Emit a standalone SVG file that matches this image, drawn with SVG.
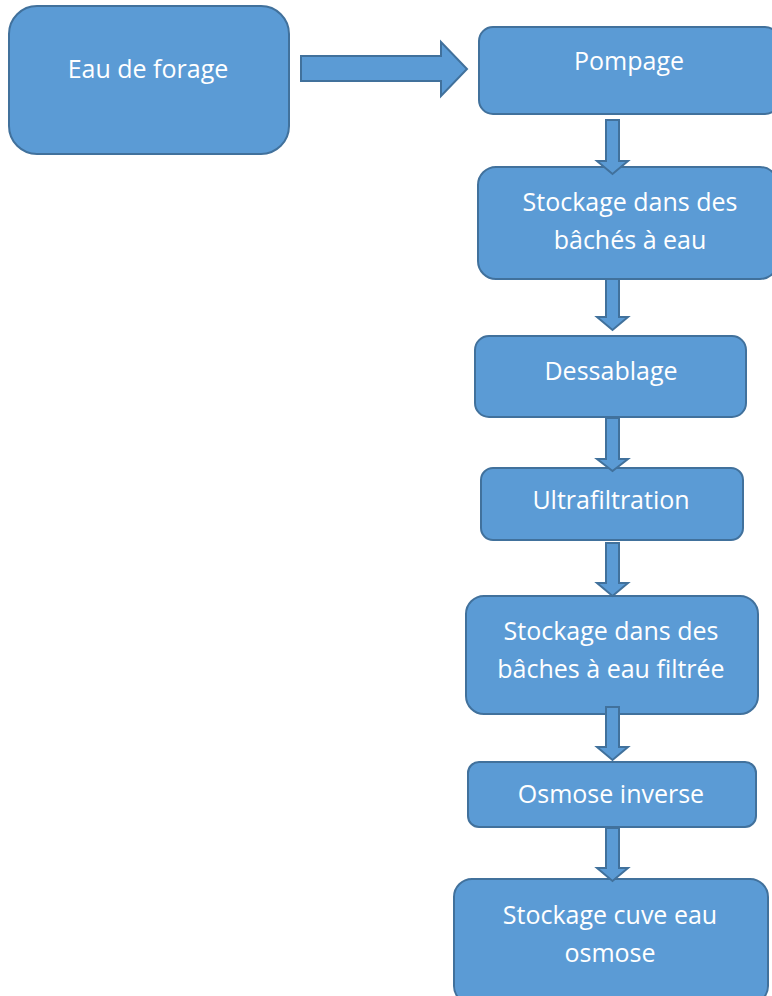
<svg xmlns="http://www.w3.org/2000/svg" width="772" height="996" viewBox="0 0 772 996">
<style>
.box{fill:#5B9BD5;stroke:#41719C;stroke-width:2}
.arr{fill:#5B9BD5;stroke:#41719C;stroke-width:2;stroke-linejoin:miter}
text{font-family:"Open Sans","Liberation Sans",sans-serif;font-size:25px;fill:#FFFFFF;text-anchor:middle}
</style>
<rect width="772" height="996" fill="#FFFFFF"/>
<g id="n1"><rect class="box" x="9" y="6" width="280" height="148" rx="28"/><text x="148" y="78">Eau de forage</text></g>
<g id="n2"><rect class="box" x="479" y="27" width="300" height="87" rx="14"/><text x="629" y="70">Pompage</text></g>
<g id="n3"><rect class="box" x="478" y="167" width="300" height="112" rx="18"/><text x="630" y="211">Stockage dans des</text><text x="630" y="249">bâchés à eau</text></g>
<g id="n4"><rect class="box" x="475" y="336" width="271" height="81" rx="14"/><text x="611" y="380">Dessablage</text></g>
<g id="n5"><rect class="box" x="481" y="468" width="262" height="72" rx="12"/><text x="611" y="509">Ultrafiltration</text></g>
<g id="n6"><rect class="box" x="466" y="596" width="292" height="118" rx="18"/><text x="611" y="640">Stockage dans des</text><text x="611" y="678">bâches à eau filtrée</text></g>
<g id="n7"><rect class="box" x="468" y="762" width="288" height="65" rx="11"/><text x="611" y="803">Osmose inverse</text></g>
<g id="n8"><rect class="box" x="454" y="879" width="314" height="125" rx="18"/><text x="610" y="924">Stockage cuve eau</text><text x="610" y="962">osmose</text></g>
<g id="connectors">
<polygon class="arr" points="301,56 441,56 441,42 467,69 441,96 441,81 301,81"/>
<polygon class="arr" points="606,120 619,120 619,161 628,161 612.5,174 597,161 606,161"/>
<polygon class="arr" points="606,279 619,279 619,317 628,317 612.5,330 597,317 606,317"/>
<polygon class="arr" points="606,418 619,418 619,459 628,459 612.5,471 597,459 606,459"/>
<polygon class="arr" points="606,543 619,543 619,583 628,583 612.5,596 597,583 606,583"/>
<polygon class="arr" points="606,707 619,707 619,747 628,747 612.5,760 597,747 606,747"/>
<polygon class="arr" points="606,828 619,828 619,868 628,868 612.5,881 597,868 606,868"/>
</g>
</svg>
